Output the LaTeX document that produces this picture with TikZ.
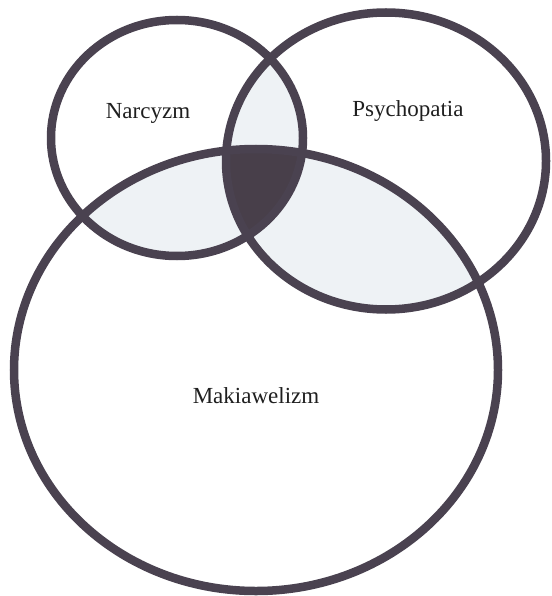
\documentclass[tikz,border=0pt]{standalone}
\usepackage{fontspec}
\setmainfont{Liberation Serif}
\definecolor{ink}{RGB}{74,66,80}
\definecolor{lite}{RGB}{238,242,245}
\definecolor{darkfill}{RGB}{72,63,74}
\tikzset{
  ring/.style={draw=ink, line width=8.5pt},
  lbl/.style={anchor=base, inner sep=0pt, font=\fontsize{23}{27}\selectfont, text=black!88}
}
\begin{document}
\begin{tikzpicture}[x=1pt,y=-1pt]
\useasboundingbox (0,0) rectangle (551,596);
\def\pathN{(177,138) ellipse [x radius=126pt, y radius=118pt]}
\def\pathP{(386,161) ellipse [x radius=160pt, y radius=148.5pt]}
\def\pathM{(256,370) ellipse [x radius=242pt, y radius=221pt]}
% pairwise overlaps
\begin{scope}
  \clip \pathN;
  \fill[lite] \pathP;
  \fill[lite] \pathM;
\end{scope}
\begin{scope}
  \clip \pathP;
  \fill[lite] \pathM;
\end{scope}
% triple overlap
\begin{scope}
  \clip \pathN;
  \clip \pathP;
  \fill[darkfill] \pathM;
\end{scope}
% outlines
\path[ring] \pathN;
\path[ring] \pathP;
\path[ring] \pathM;
% labels
\node[lbl] (narc) at (148,119) {Narcyzm};
\node[lbl] (psych) at (408,117) {Psychopatia};
\node[lbl] (mak) at (256,403) {Makiawelizm};
\end{tikzpicture}
\end{document}
